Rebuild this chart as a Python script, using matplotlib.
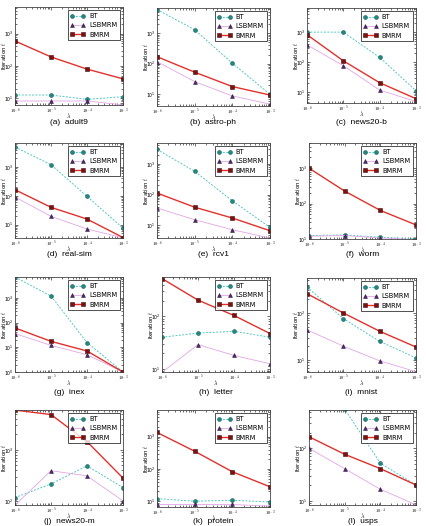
import matplotlib
matplotlib.use("Agg")
import matplotlib.pyplot as plt
import numpy as np

plt.rcParams['mathtext.fontset'] = 'cm'
plt.rcParams['font.family'] = ['DejaVu Sans']

lambdas = [1e-6, 1e-5, 1e-4, 1e-3]
xtick_labels = [r'$10^{-6}$', r'$10^{-5}$', r'$10^{-4}$', r'$10^{-3}$']
series_names = ['BT', 'LSBMRM', 'BMRM']

captions = ['(a)  adult9', '(b)  astro-ph', '(c)  news20-b',
            '(d)  real-sim', '(e)  rcv1', '(f)  worm',
            '(g)  inex', '(h)  letter', '(i)  mnist',
            '(j)  news20-m', '(k)  protein', '(l)  usps']

bt = [
    [12.7, 12.7, 9.3, 11.3],
    [5900, 1290, 104, 10],
    [1000, 1000, 145, 11.4],
    [4900, 1200, 96, 7.6],
    [2950, 575, 63, 8.6],
    [12.5, 13, 11.2, 10],
    [7000, 1200, 15.5, 1],
    [40, 48, 52, 40],
    [355, 76, 25, 11.2],
    [116, 215, 485, 183],
    [12, 10, 10.7, 9.5],
    [3000, 560, 52, 20],
]
lsbmrm = [
    [8.3, 8.3, 8.3, 6.3],
    [118, 26, 8.9, 4.8],
    [380, 77, 12, 5],
    [91, 19.5, 7.1, 3.5],
    [37, 15.3, 7.2, 3.9],
    [12, 12.5, 10.7, 9.6],
    [36, 12, 5, 1],
    [8.6, 29, 18, 12.5],
    [44, 19.8, 9.7, 5.7],
    [83, 390, 310, 100],
    [7.9, 7.9, 7.9, 7],
    [100, 41, 16.6, 8.4],
]
bmrm = [
    [590, 190, 80, 40],
    [170, 53, 18, 9.5],
    [820, 112, 21, 6.2],
    [163, 40, 15.7, 3.6],
    [113, 39, 17.4, 6.7],
    [1000, 225, 64, 25],
    [61, 17.5, 7.1, 1],
    [525, 204, 104, 47],
    [256, 100, 41, 19],
    [6000, 4900, 1450, 280],
    [1360, 355, 82, 28],
    [166, 77, 41, 20],
]

# layout (pixels): left, right, top, bottom, and y-limits (log10)
rects = [
    (15, 123, 7, 105), (157, 270, 8, 106), (307, 416, 8, 103),
    (15, 123, 143, 238), (157, 270, 143, 238), (309, 416, 143, 239),
    (15, 123, 277, 372), (162, 270, 277, 372), (307, 416, 278, 372),
    (15, 123, 410, 505), (157, 270, 410, 507), (309, 416, 410, 505),
]
ylims = [
    (0.795, 3.82), (0.62, 3.82), (0.65, 3.80),
    (0.54, 3.83), (0.59, 3.68), (1.0, 3.71),
    (0.0, 3.85), (0.94, 2.75), (0.75, 2.74),
    (1.92, 3.78), (0.82, 3.83), (0.92, 2.73),
]
caption_y = [122, 122, 122, 254.5, 254.5, 254.5, 392.5, 392.5, 392.5, 521.5, 521.5, 521.5]

W, H = 426, 526
fig = plt.figure(figsize=(W / 100, H / 100), dpi=100)

bt_style = dict(color='#55c8c0', ls='--', lw=0.7, marker='o', ms=2.8,
                mfc='#1f8a84', mec='#15605c', mew=0.4, dashes=(2, 1.5))
ls_style = dict(color='#e2a6e6', ls='-', lw=0.6, marker='^', ms=2.8,
                mfc='#4a2a6a', mec='#2e1840', mew=0.4)
bm_style = dict(color='#e2312c', ls='-', lw=1.0, marker='s', ms=2.6,
                mfc='#7a1212', mec='#4a0a0a', mew=0.4)

for i in range(12):
    l, r, t, b = rects[i]
    ax = fig.add_axes([l / W, 1 - b / H, (r - l) / W, (b - t) / H])
    ax.plot(lambdas, bt[i], label=series_names[0], **bt_style)
    ax.plot(lambdas, lsbmrm[i], label=series_names[1], **ls_style)
    ax.plot(lambdas, bmrm[i], label=series_names[2], **bm_style)
    ax.set_xscale('log')
    ax.set_yscale('log')
    ax.set_xlim(1e-6, 1e-3)
    y0, y1 = ylims[i]
    ax.set_ylim(10 ** y0, 10 ** y1)
    ax.set_xticks(lambdas)
    ax.set_xticklabels(xtick_labels)
    ax.tick_params(axis='both', which='both', direction='in', top=True, right=True,
                   labelsize=3.3, pad=1.0, width=0.4)
    ax.tick_params(which='major', length=2.5)
    ax.tick_params(which='minor', length=1.2)
    for s in ax.spines.values():
        s.set_linewidth(0.6)
        s.set_color('#444444')
    ax.set_xlabel(r'$\lambda$', fontsize=4.2)
    ax.xaxis.set_label_coords(0.5, -6.8 / (b - t))
    ax.set_ylabel(r'Iteration $t$', fontsize=3.9)
    ax.yaxis.set_label_coords(-7.3 / (r - l), 0.5)
    leg = ax.legend(loc='upper right', fontsize=4.8, numpoints=2, frameon=True,
                    fancybox=False, borderpad=0.4, labelspacing=0.5,
                    handlelength=2.2, handletextpad=0.6, borderaxespad=0.5)
    leg.get_frame().set_edgecolor('black')
    leg.get_frame().set_linewidth(0.6)
    fig.text((l + r) / 2 / W, 1 - caption_y[i] / H, captions[i],
             ha='center', va='center', fontsize=6.0, family='Liberation Sans')

fig.savefig('out.png', dpi=100)
